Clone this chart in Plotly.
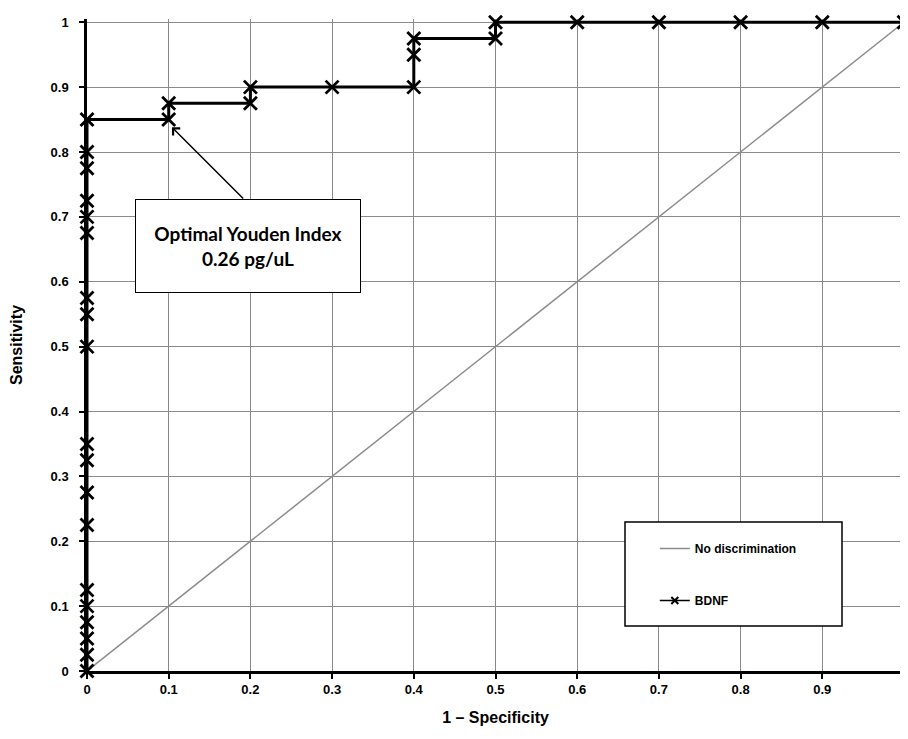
import plotly.graph_objects as go

# ROC data (BDNF)
fpr = [0]*19 + [0.1, 0.1, 0.2, 0.2, 0.3, 0.4, 0.4, 0.4, 0.5, 0.5, 0.6, 0.7, 0.8, 0.9, 1.0]
tpr = [0, 0.025, 0.05, 0.075, 0.1, 0.125, 0.225, 0.275, 0.325, 0.35, 0.5, 0.55, 0.575,
       0.675, 0.7, 0.725, 0.775, 0.8, 0.85,
       0.85, 0.875, 0.875, 0.9, 0.9, 0.9, 0.95, 0.975, 0.975, 1.0, 1.0, 1.0, 1.0, 1.0, 1.0]
diag_x = [0, 1]
diag_y = [0, 1]
ticks = [0, 0.1, 0.2, 0.3, 0.4, 0.5, 0.6, 0.7, 0.8, 0.9, 1]
tick_text = ["0", "0.1", "0.2", "0.3", "0.4", "0.5", "0.6", "0.7", "0.8", "0.9", "1"]

FONT = "Liberation Sans"

fig = go.Figure()
fig.add_trace(go.Scatter(
    x=diag_x, y=diag_y, mode="lines", name="No discrimination",
    line=dict(color="#8c8c8c", width=1.5), legendgroup="a"))
fig.add_trace(go.Scatter(
    x=fpr, y=tpr, mode="lines+markers", name="BDNF", showlegend=False,
    line=dict(color="black", width=3),
    marker=dict(symbol="x-thin", size=13, color="black",
                line=dict(color="black", width=2.8)),
    cliponaxis=False))
# legend entry for BDNF (smaller marker, as in the reference legend)
fig.add_trace(go.Scatter(
    x=[None], y=[None], mode="lines+markers", name="BDNF", legendgroup="b",
    line=dict(color="black", width=1.5),
    marker=dict(symbol="x-thin", size=7, color="black",
                line=dict(color="black", width=2))))

axis_common = dict(
    tickvals=ticks, ticktext=tick_text, automargin=False,
    showgrid=True, gridcolor="#8a8a8a", gridwidth=1,
    zeroline=False, showline=True, linecolor="black", linewidth=2.5,
    ticks="outside", ticklen=5, tickcolor="black", tickwidth=1.5,
    tickfont=dict(family=FONT, size=13, color="black", weight="bold"),
    fixedrange=True)

# page body has an 8px default margin, so the figure is 8px smaller
fig.update_layout(
    width=900, height=731,
    margin=dict(l=79, r=4, t=11, b=68, autoexpand=False),
    paper_bgcolor="white", plot_bgcolor="white",
    showlegend=True,
    legend=dict(x=0.695, y=0.21, xanchor="left", yanchor="top",
                bgcolor="rgba(0,0,0,0)", borderwidth=0,
                font=dict(family=FONT, size=12, color="black", weight="bold"),
                tracegroupgap=33, traceorder="grouped"),
    xaxis=dict(**axis_common, range=[0, 1],
               title=dict(text="1 – Specificity", standoff=16,
                          font=dict(family=FONT, size=16, color="black", weight="bold"))),
    yaxis=dict(**axis_common, range=[0, 1.005], ticklabelstandoff=8,
               title=dict(text="Sensitivity", standoff=25,
                          font=dict(family=FONT, size=16, color="black", weight="bold"))),
)

# legend box
fig.add_shape(type="rect", xref="x", yref="y",
              x0=(625-87)/817, x1=(842-87)/817,
              y0=(671-626)/649, y1=(671-522)/649,
              line=dict(color="black", width=1.5), fillcolor="white", layer="above")

# arrow pointing at the optimal cut-off
fig.add_annotation(x=0.104, y=0.838, ax=0.193, ay=0.726, xref="x", yref="y",
                   axref="x", ayref="y", text="", showarrow=True,
                   arrowhead=4, arrowsize=1.3, arrowwidth=1.5, arrowcolor="black")
# label box
fig.add_annotation(x=0.197, y=0.655, xref="x", yref="y",
                   text="Optimal Youden Index<br>0.26 pg/uL", showarrow=False,
                   width=222, height=90, align="center", valign="middle",
                   bgcolor="white", bordercolor="black", borderwidth=1,
                   font=dict(family="Lato", size=19, color="black", weight="bold"))

fig.write_html("out.html")
